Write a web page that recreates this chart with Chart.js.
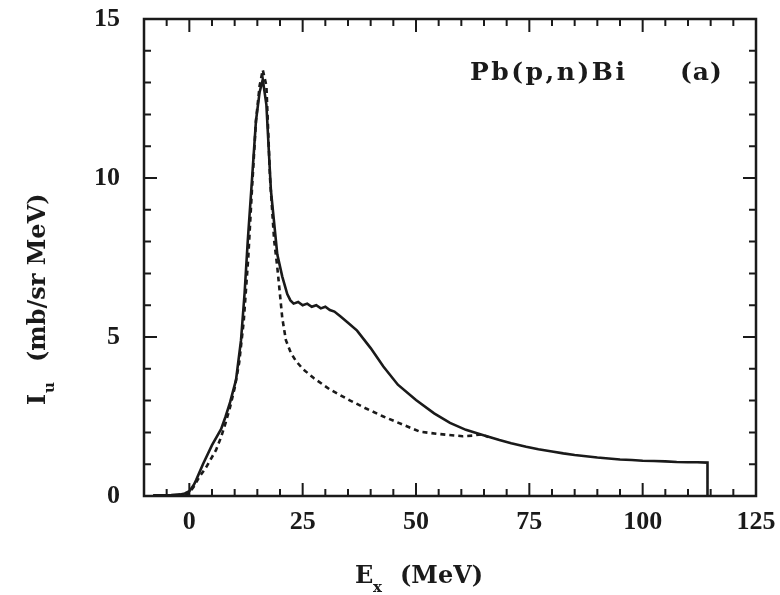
<!DOCTYPE html>
<html><head><meta charset="utf-8">
<script src="https://cdn.jsdelivr.net/npm/chart.js@4.4.0/dist/chart.umd.min.js"></script>
<style>html,body{margin:0;padding:0;background:#fff}canvas{display:block}</style>
</head><body>
<canvas id="c" width="780" height="595"></canvas>
<script>
// Tick labels
const xTicks = [0, 25, 50, 75, 100, 125];
const yTicks = [0, 5, 10, 15];
// Solid curve (measured)
const solidE = [-8,-6,-4,-2,-1,0,1,1.5,3,5,7,8,9,10.3,11.4,12.2,12.9,13.8,14.7,15.5,16.2,17,18,19.4,20.5,21.6,22.3,23,24,25,26,27,28,29,30,31,32,33.3,35,37,40,42.8,46,50,54,57.5,61,64.7,68.4,71,74.3,77,80,82.5,85,87.5,90,92.5,95,97.6,100,102.5,105,107.5,110,112,114.3,114.3];
const solidI = [0.02,0.02,0.03,0.05,0.08,0.15,0.35,0.5,1.0,1.6,2.1,2.5,2.95,3.65,4.9,6.4,8.05,9.9,11.8,12.7,13.1,12.3,9.6,7.6,6.9,6.35,6.15,6.05,6.1,6.0,6.05,5.95,6.0,5.9,5.95,5.85,5.8,5.65,5.45,5.2,4.65,4.07,3.5,3.02,2.6,2.3,2.08,1.92,1.76,1.66,1.55,1.47,1.4,1.34,1.29,1.25,1.21,1.18,1.15,1.13,1.11,1.1,1.09,1.07,1.06,1.06,1.05,0];
// Dashed curve (measured)
const dashE = [-1,0,1,2.2,3.7,5.9,7,8,9,10,11,12,13,13.8,14.7,15.5,16.2,17,17.8,18.7,19.4,20.5,21.3,22.4,23.5,25,27.5,31,35.5,39,42.8,47,50.9,55,60.3,62.5,64.5,66];
const dashI = [0,0.1,0.3,0.6,0.9,1.45,1.85,2.3,2.8,3.4,4.2,5.5,7.5,9.6,11.8,12.9,13.4,12.9,10.0,8.05,7.2,5.6,4.9,4.5,4.25,4.0,3.7,3.35,3.0,2.75,2.5,2.25,2.02,1.95,1.88,1.9,1.94,1.85];
const xMinor = 5, yMinor = 1;

const ink = '#1a1a1a';
const serif = "'DejaVu Serif', serif";

const framePlugin = {
  id: 'frame',
  afterDraw(chart) {
    const {ctx, chartArea: a, scales: {x, y}} = chart;
    ctx.save();
    ctx.strokeStyle = ink;
    ctx.lineWidth = 2.5;
    ctx.strokeRect(a.left, a.top, a.right - a.left, a.bottom - a.top);
    ctx.lineWidth = 2;
    ctx.beginPath();
    for (let v = x.min; v <= x.max + 1e-9; v += xMinor) {
      const px = x.getPixelForValue(v);
      const len = xTicks.includes(v) ? 13 : 7;
      ctx.moveTo(px, a.bottom); ctx.lineTo(px, a.bottom - len);
      ctx.moveTo(px, a.top); ctx.lineTo(px, a.top + len);
    }
    for (let v = y.min; v <= y.max + 1e-9; v += yMinor) {
      const py = y.getPixelForValue(v);
      const len = yTicks.includes(v) ? 13 : 7;
      ctx.moveTo(a.left, py); ctx.lineTo(a.left + len, py);
      ctx.moveTo(a.right, py); ctx.lineTo(a.right - len, py);
    }
    ctx.stroke();

    ctx.fillStyle = ink;
    ctx.textBaseline = 'alphabetic';
    ctx.textAlign = 'left';
    // annotation
    ctx.font = "bold 25px " + serif;
    ctx.letterSpacing = '2.5px';
    ctx.fillText('Pb(p,n)Bi', 470, 80);
    ctx.letterSpacing = '1px';
    ctx.fillText('(a)', 680, 80);
    ctx.letterSpacing = '0px';

    // x title
    ctx.font = "bold 24px " + serif;
    ctx.fillText('E', 355, 583);
    ctx.font = "bold 15px " + serif;
    ctx.fillText('x', 373, 592);
    ctx.font = "bold 24px " + serif;
    ctx.fillText('(MeV)', 400, 583);

    // y title (rotated)
    ctx.translate(45, 405);
    ctx.rotate(-Math.PI / 2);
    ctx.font = "bold 24px " + serif;
    ctx.fillText('I', 0, 0);
    ctx.font = "bold 15px " + serif;
    ctx.fillText('u', 12, 9);
    ctx.font = "bold 24px " + serif;
    ctx.fillText('(mb/sr MeV)', 43, 0);
    ctx.restore();
  }
};

const tickFont = {family: "'Liberation Serif', serif", size: 26, weight: 'bold'};
const noOverflow = s => { s.paddingLeft = 0; s.paddingRight = 0; s.paddingTop = 0; s.paddingBottom = 0; };

new Chart(document.getElementById('c'), {
  type: 'scatter',
  data: {
    datasets: [
      {data: solidE.map((e, i) => ({x: e, y: solidI[i]})), showLine: true, borderColor: ink, borderWidth: 2.6, pointRadius: 0, tension: 0},
      {data: dashE.map((e, i) => ({x: e, y: dashI[i]})), showLine: true, borderColor: ink, borderWidth: 2.6, borderDash: [5, 4], pointRadius: 0, tension: 0}
    ]
  },
  options: {
    responsive: false,
    animation: false,
    layout: {padding: {left: 0, right: 24, top: 19, bottom: 0}},
    plugins: {legend: {display: false}, tooltip: {enabled: false}},
    scales: {
      x: {
        type: 'linear', min: -10, max: 125,
        afterBuildTicks: s => { s.ticks = xTicks.map(v => ({value: v})); },
        afterFit: s => { s.height = 99; noOverflow(s); },
        grid: {display: false, drawTicks: false},
        border: {display: false},
        ticks: {padding: 11, font: tickFont, color: ink, maxRotation: 0, autoSkip: false}
      },
      y: {
        type: 'linear', min: 0, max: 15,
        afterBuildTicks: s => { s.ticks = yTicks.map(v => ({value: v})); },
        afterFit: s => { s.width = 144; noOverflow(s); },
        grid: {display: false, drawTicks: false},
        border: {display: false},
        ticks: {padding: 24, font: tickFont, color: ink, autoSkip: false}
      }
    }
  },
  plugins: [framePlugin]
});
</script>
</body></html>
